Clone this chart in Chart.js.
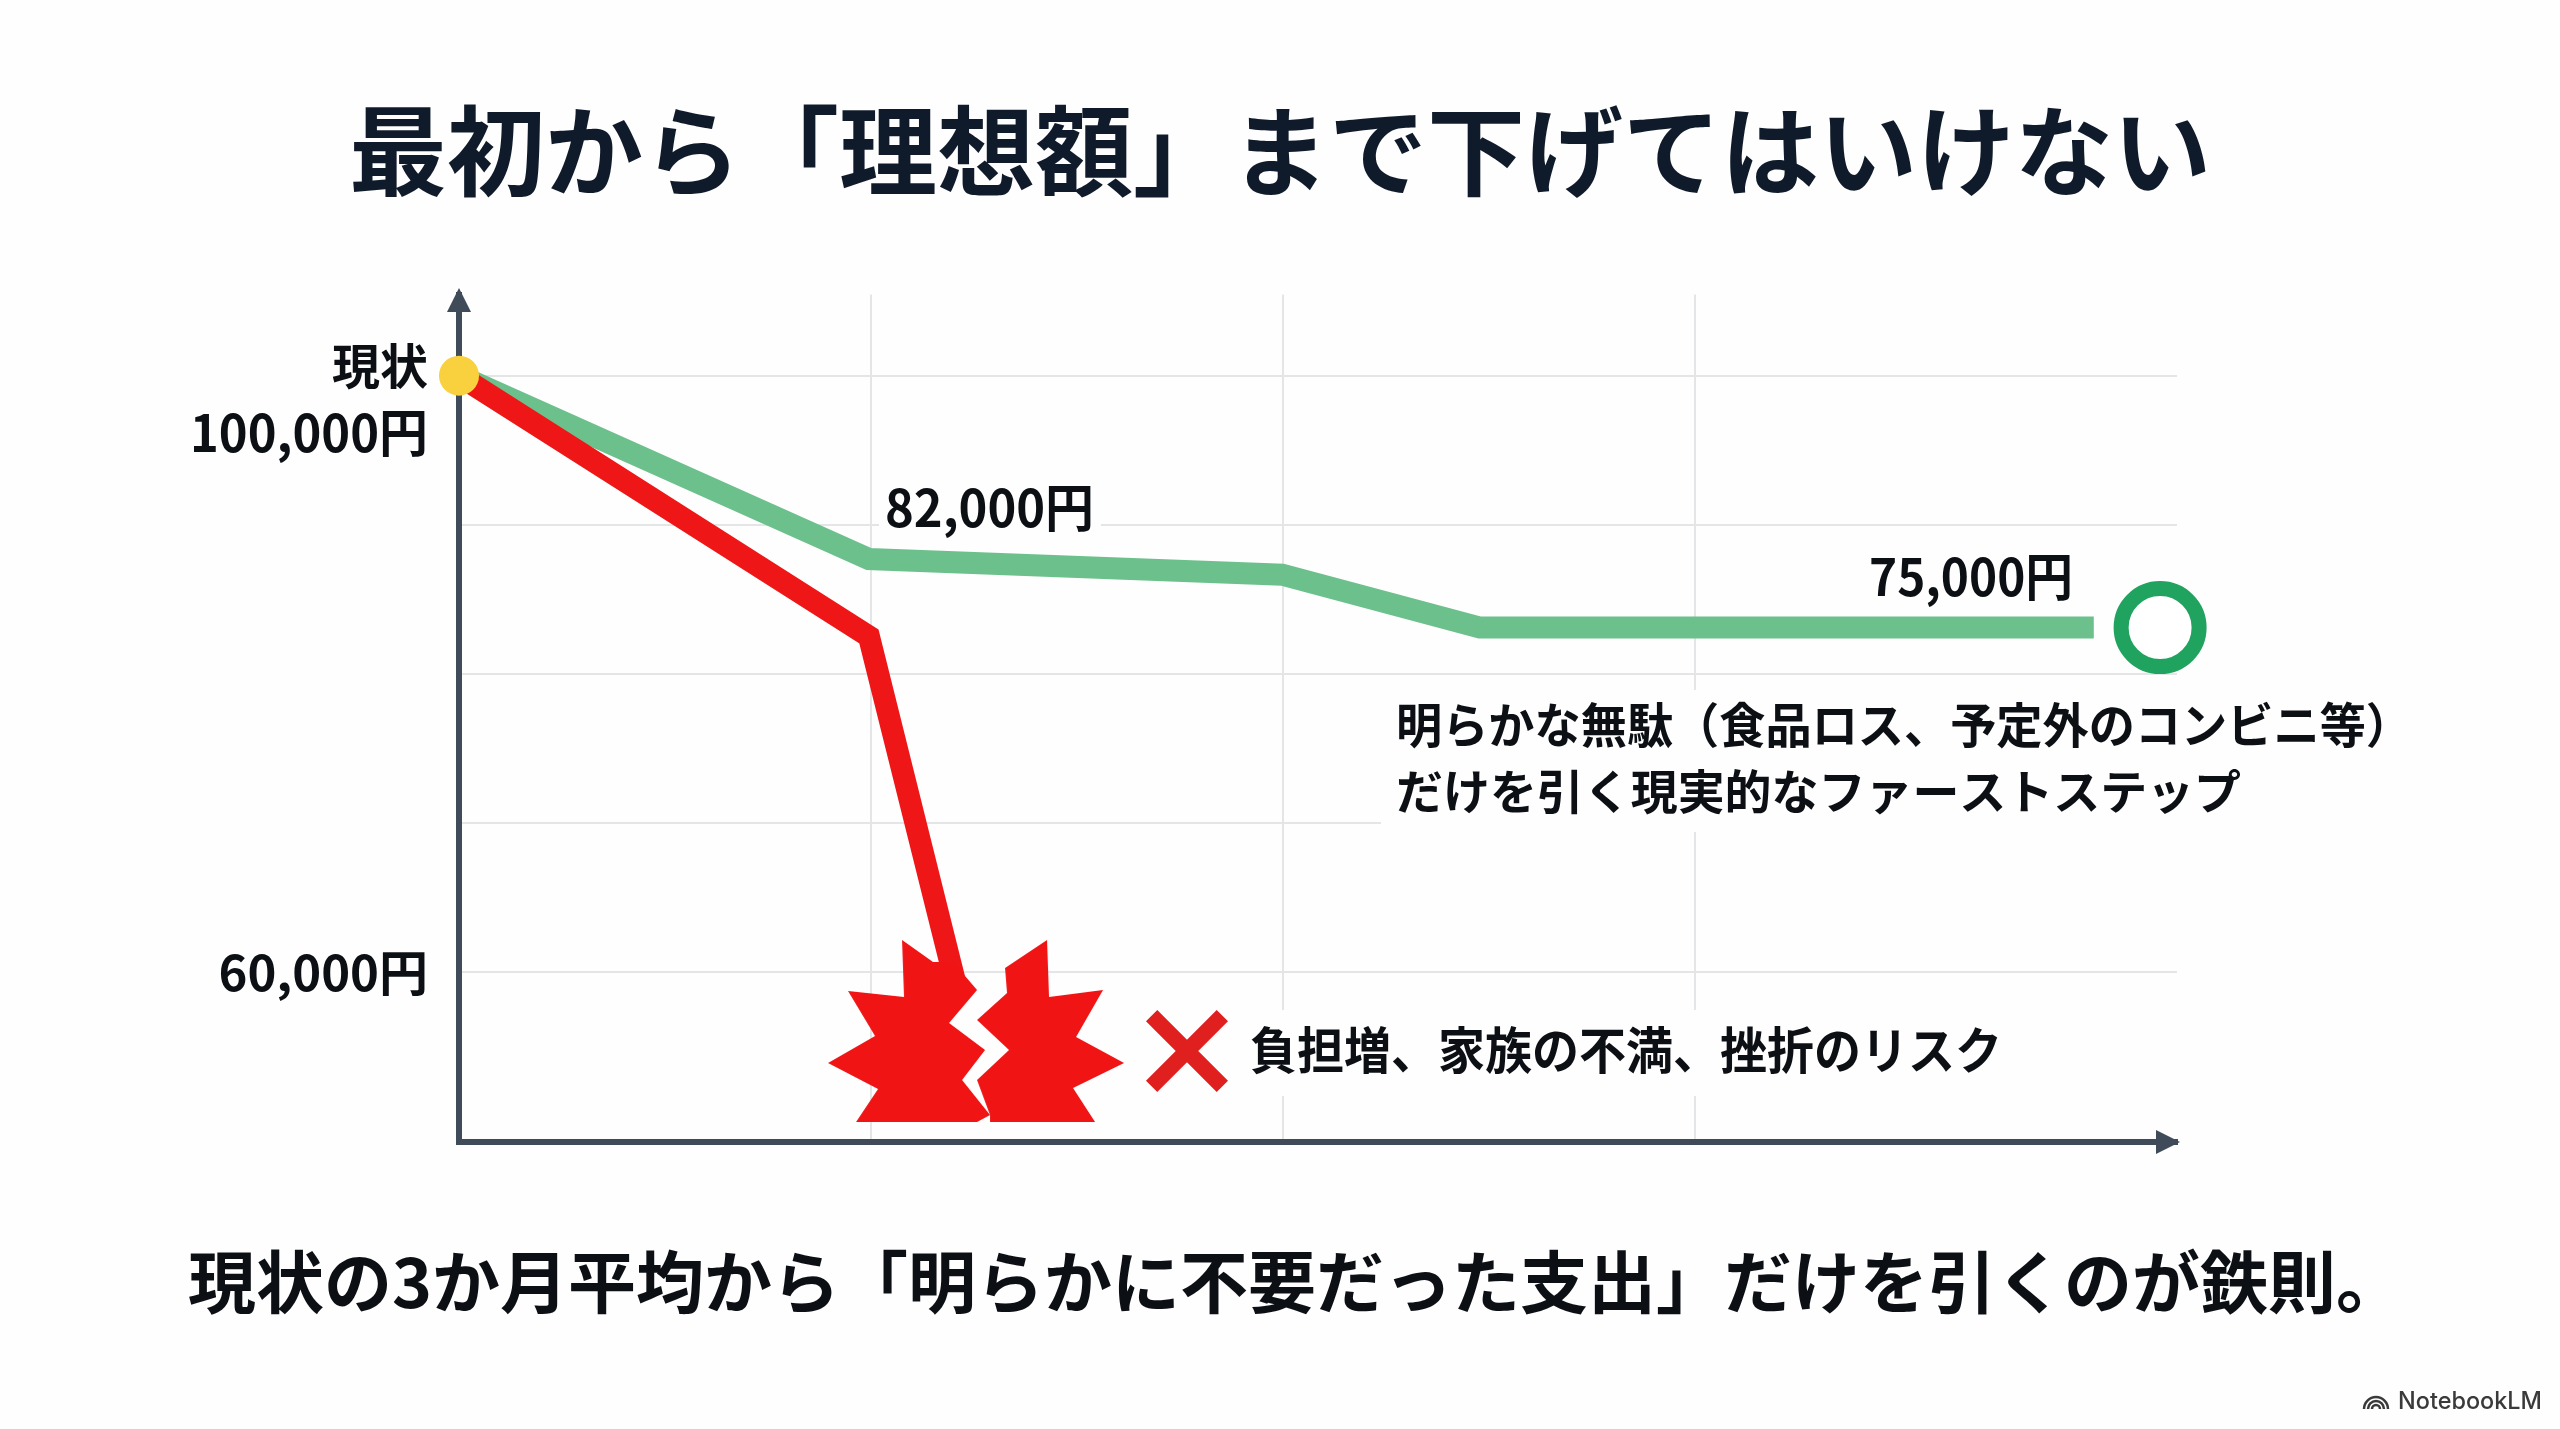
<!DOCTYPE html>
<html lang="ja">
<head>
<meta charset="utf-8">
<title>最初から「理想額」まで下げてはいけない</title>
<script src="https://cdn.jsdelivr.net/npm/chart.js@4/dist/chart.umd.min.js"></script>
<style>
  html, body { margin: 0; padding: 0; background: #fefefe; }
  canvas { display: block; }
</style>
</head>
<body>
<canvas id="myChart" width="2560" height="1429"></canvas>
<script>
const chartTitle = '最初から「理想額」まで下げてはいけない';
const chartCaption = '現状の3か月平均から「明らかに不要だった支出」だけを引くのが鉄則。';
const currentLabel = '現状';
const startLabel = '100,000円';
const lowTickLabel = '60,000円';
const earlyLabel = '82,000円';
const goalLabel = '75,000円';
const noteLines = ['明らかな無駄（食品ロス、予定外のコンビニ等）', 'だけを引く現実的なファーストステップ'];
const riskLabel = '負担増、家族の不満、挫折のリスク';
const brandLabel = 'NotebookLM';

// values as drawn in the picture (the line sits where it sits, not where its label says)
const yTicks = [100000, 90000, 80000, 70000, 60000];
const xTicks = [1, 2, 3];
const greenX = [0, 0.995, 1.998, 2.478, 3.968];
const greenY = [100000, 87700, 86650, 83100, 83100];
const redX = [0, 0.995, 1.206];
const redY = [100000, 82500, 59130];
const startPoint = [0, 100000];
const goalPoint = [4.129, 83100];
const burstPoint = [1.255, 56040];
const crossPoint = [1.767, 54700];

const font = 'bold SIZEpx "Noto Sans CJK JP", "Noto Sans CJK SC", sans-serif';
const jp = size => font.replace('SIZE', size);
const inkColor = '#0c0f14';
const axisColor = '#3f4b58';
const gridColor = '#e4e5e7';

// the broken red burst, used as an image point style
function makeBurst() {
  const c = document.createElement('canvas');
  c.width = 296;
  c.height = 182;
  const g = c.getContext('2d');
  const left = [[74,0],[105,22],[125,22],[149,50],[121,83],[157,110],[134,140],[162,175],[149,182],[28,182],[50,149],[0,123],[47,96],[20,51],[76,57]];
  const right = [[219,0],[177,28],[179,53],[149,80],[181,110],[149,140],[162,175],[162,182],[267,182],[245,148],[296,123],[248,97],[275,50],[221,57]];
  g.fillStyle = '#f01414';
  [left, right].forEach(shape => {
    g.beginPath();
    shape.forEach((p, i) => i ? g.lineTo(p[0], p[1]) : g.moveTo(p[0], p[1]));
    g.closePath();
    g.fill();
  });
  return c;
}

function text(ctx, str, x, y, size, align, maxWidth, color) {
  ctx.font = jp(size);
  ctx.fillStyle = color || inkColor;
  ctx.textAlign = align || 'left';
  ctx.textBaseline = 'middle';
  if (maxWidth) ctx.fillText(str, x, y, maxWidth);
  else ctx.fillText(str, x, y);
}

// white boxes that break the grid behind the texts
const patches = {
  id: 'patches',
  beforeDatasetsDraw(chart) {
    const ctx = chart.ctx;
    ctx.save();
    ctx.fillStyle = '#fefefe';
    ctx.fillRect(879, 485, 222, 50);
    ctx.fillRect(1381, 690, 810, 142);
    ctx.fillRect(1240, 1010, 770, 86);
    ctx.restore();
  }
};

const annotations = {
  id: 'annotations',
  afterDatasetsDraw(chart) {
    const ctx = chart.ctx;
    const area = chart.chartArea;
    ctx.save();

    // axis arrow heads
    ctx.fillStyle = axisColor;
    ctx.beginPath();
    ctx.moveTo(area.left, 288);
    ctx.lineTo(area.left + 12, 312);
    ctx.lineTo(area.left - 12, 312);
    ctx.closePath();
    ctx.fill();
    ctx.beginPath();
    ctx.moveTo(2180, area.bottom);
    ctx.lineTo(2156, area.bottom + 12);
    ctx.lineTo(2156, area.bottom - 12);
    ctx.closePath();
    ctx.fill();

    text(ctx, currentLabel, 428, 366, 48, 'right');
    text(ctx, startLabel, 428, 433, 51, 'right', 238);
    text(ctx, earlyLabel, 885, 508, 51, 'left', 209);
    text(ctx, goalLabel, 1869, 577, 51, 'left', 204);
    text(ctx, noteLines[0], 1396, 725, 48, 'left', 1016);
    text(ctx, noteLines[1], 1396, 791, 47, 'left', 845);
    text(ctx, riskLabel, 1250, 1050, 50, 'left', 752);
    text(ctx, chartCaption, 1296, 1282, 68, 'center');

    // NotebookLM mark
    ctx.font = '500 24px Inter, Roboto, sans-serif';
    ctx.fillStyle = '#3a3a3c';
    ctx.textAlign = 'left';
    ctx.textBaseline = 'middle';
    ctx.fillText(brandLabel, 2398, 1402, 144);
    ctx.strokeStyle = '#3a3a3c';
    ctx.lineWidth = 2.5;
    [12, 8, 4].forEach(r => {
      ctx.beginPath();
      ctx.arc(2376, 1409, r, Math.PI, 0);
      ctx.stroke();
    });
    ctx.restore();
  }
};

const toXY = (xs, ys) => xs.map((x, i) => ({ x: x, y: ys[i] }));
const onePoint = p => [{ x: p[0], y: p[1] }];

new Chart(document.getElementById('myChart'), {
  type: 'line',
  data: {
    datasets: [
      {
        data: onePoint(startPoint), order: 0, showLine: false, clip: false,
        pointRadius: 20, pointBackgroundColor: '#f9d13e', pointBorderWidth: 0
      },
      {
        data: toXY(redX, redY), order: 1, clip: false, borderColor: '#ee1616', borderWidth: 22,
        borderJoinStyle: 'miter', pointRadius: 0
      },
      {
        data: toXY(greenX, greenY), order: 2, clip: false, borderColor: '#6cc08b', borderWidth: 22,
        borderJoinStyle: 'miter', pointRadius: 0
      },
      {
        data: onePoint(goalPoint), order: 0, showLine: false, clip: false,
        pointRadius: 39, pointBackgroundColor: '#ffffff', pointBorderColor: '#1fa35f', pointBorderWidth: 15
      },
      {
        data: onePoint(burstPoint), order: 0, showLine: false, clip: false,
        pointStyle: makeBurst(), pointRadius: 10
      },
      {
        data: onePoint(crossPoint), order: 0, showLine: false, clip: false,
        pointStyle: 'crossRot', pointRadius: 50, pointBorderColor: '#e0201f', pointBorderWidth: 16
      }
    ]
  },
  options: {
    responsive: false,
    devicePixelRatio: 1,
    animation: false,
    layout: { padding: { bottom: 287 } },
    plugins: {
      legend: { display: false },
      tooltip: { enabled: false },
      title: {
        display: true, text: chartTitle, color: '#0f1b2a',
        font: { family: '"Noto Sans CJK JP", sans-serif', size: 98, weight: 'bold', lineHeight: 1.2 },
        padding: { top: 92, bottom: 85 }
      }
    },
    scales: {
      x: {
        type: 'linear', min: 0, max: 4.17,
        afterBuildTicks: s => { s.ticks = xTicks.map(v => ({ value: v })); },
        afterFit: s => { s.height = 0; },
        ticks: { display: false },
        grid: { color: gridColor, lineWidth: 2, drawTicks: false },
        border: { color: axisColor, width: 6 }
      },
      y: {
        type: 'linear', min: 48591, max: 105436,
        afterBuildTicks: s => { s.ticks = yTicks.map(v => ({ value: v })); },
        afterFit: s => { s.width = 459; },
        ticks: {
          padding: 31, color: inkColor,
          font: { family: '"Noto Sans CJK JP", sans-serif', size: 49, weight: 'bold' },
          callback: v => v === 60000 ? lowTickLabel : ''
        },
        grid: { color: gridColor, lineWidth: 2, drawTicks: false },
        border: { color: axisColor, width: 6 }
      },
      // empty axis that keeps the right margin, title stays centred on the page
      margin: {
        type: 'linear', position: 'right',
        afterFit: s => { s.width = 383; },
        ticks: { display: false },
        grid: { display: false },
        border: { display: false }
      }
    }
  },
  plugins: [patches, annotations]
});
</script>
</body>
</html>
